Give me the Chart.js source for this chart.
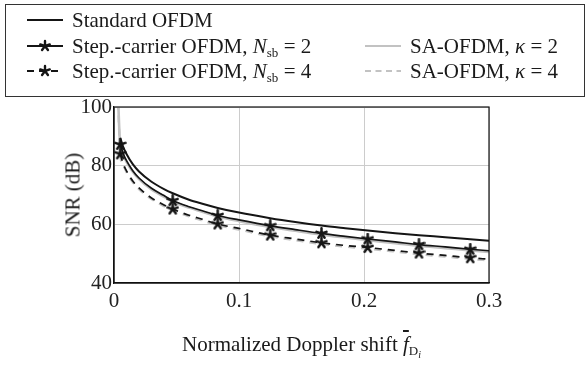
<!DOCTYPE html>
<html>
<head>
<meta charset="utf-8">
<script src="https://cdn.jsdelivr.net/npm/chart.js@4/dist/chart.umd.min.js"></script>
<style>
  body { margin: 0; background: #fff; }
  #wrap { position: relative; width: 586px; height: 376px; overflow: hidden; font-family: "Liberation Serif", "Times New Roman", "DejaVu Serif", serif; color: #1a1a1a; }
  #chart { position: absolute; left: 0; top: 0; }
  #legend { position: absolute; left: 5px; top: 4px; width: 578px; height: 91px; border: 1px solid #333; }
  .item { position: absolute; font-size: 21px; line-height: 24px; white-space: nowrap; }
  .item svg { position: absolute; top: 5px; left: 0; }
  .item span.t { position: absolute; top: 0; }
  .sub { font-size: 13px; position: relative; top: 4px; }
  #xtitle { position: absolute; left: 0; width: 603px; top: 332px; text-align: center; font-size: 21px; line-height: 24px; white-space: nowrap; }
  #ytitle { position: absolute; left: 73px; top: 195px; font-size: 21px; white-space: nowrap; transform: translate(-50%, -50%) rotate(-90deg); }
</style>
</head>
<body>
<div id="wrap">
  <canvas id="chart" width="586" height="376"></canvas>
  <div id="legend"></div>
  <div id="ytitle">SNR (dB)</div>
  <div id="xtitle">Normalized Doppler shift <i style="text-decoration: overline;">f</i><span class="sub">D<span style="font-size:10px; font-style:italic; position:relative; top:3px;">i</span></span></div>
</div>
<script>
// normalized Doppler shift grid (x)
const dopplerShift = [0.003, 0.005, 0.0075, 0.01, 0.015, 0.02, 0.03, 0.04, 0.047, 0.06, 0.07, 0.083, 0.1, 0.125, 0.145, 0.166, 0.185, 0.203, 0.225, 0.244, 0.265, 0.285, 0.3];
// x positions that carry a star mark
const markShift = [0.005, 0.047, 0.083, 0.125, 0.166, 0.203, 0.244, 0.285];

// SNR (dB)
const standardOfdm = [null, 89.5, 86.2, 84.0, 80.5, 78.0, 74.5, 72.0, 70.6, 68.4, 67.1, 65.6, 64.0, 62.1, 60.8, 59.6, 58.7, 57.9, 57.0, 56.3, 55.6, 54.9, 54.4];
const stepNsb2 = [null, 87.2, 84.0, 81.7, 78.3, 75.8, 72.3, 69.8, 68.1, 66.0, 64.7, 63.0, 61.5, 59.5, 58.2, 56.9, 55.9, 55.0, 54.0, 53.1, 52.3, 51.5, 51.0];
const stepNsb4 = [null, 84.0, 80.5, 78.2, 74.8, 72.4, 69.0, 66.6, 65.2, 63.1, 61.8, 60.1, 58.6, 56.3, 55.0, 53.7, 52.8, 52.1, 51.1, 50.2, 49.4, 48.6, 48.1];
const saKappa2 = [106, 86.5, 83.5, 81.3, 77.9, 75.4, 71.9, 69.4, 67.8, 65.7, 64.4, 62.7, 61.1, 59.1, 57.8, 56.5, 55.5, 54.6, 53.6, 52.7, 51.9, 51.1, 50.6];
const saKappa4 = [106, 83.6, 80.1, 77.8, 74.4, 72.0, 68.6, 66.2, 64.8, 62.7, 61.4, 59.7, 58.2, 55.9, 54.6, 53.3, 52.4, 51.7, 50.7, 49.8, 49.0, 48.2, 47.7];

const xTicks = [0, 0.1, 0.2, 0.3];
const yTicks = [40, 60, 80, 100];

const BLACK = "#151515";
const GREY = "#c2c2c2";
const FONT = "'Liberation Serif', 'Times New Roman', 'DejaVu Serif', serif";

// 5-arm star mark, like the pgfplots one
function makeStar(size, lw) {
  const c = document.createElement("canvas");
  c.width = size; c.height = size;
  const g = c.getContext("2d");
  const r = size / 2 - lw / 2;
  g.strokeStyle = BLACK;
  g.lineWidth = lw;
  g.lineCap = "round";
  g.beginPath();
  for (let k = 0; k < 5; k++) {
    const a = -Math.PI / 2 + k * 2 * Math.PI / 5;
    g.moveTo(size / 2, size / 2);
    g.lineTo(size / 2 + r * Math.cos(a), size / 2 + r * Math.sin(a));
  }
  g.stroke();
  return c;
}
const star = makeStar(13, 2.5);

function pts(vals) {
  return dopplerShift.map((x, i) => ({ x: x, y: vals[i] }));
}
const markRadius = (ctx) => markShift.includes(dopplerShift[ctx.dataIndex]) ? 5 : 0;

// legend (html so the math can be set)
const legendItems = [
  { left: 21, top: 3, html: "Standard OFDM", line: "solid", color: BLACK, mark: false },
  { left: 21, top: 29, html: 'Step.-carrier OFDM, <i>N</i><span class="sub">sb</span> = 2', line: "solid", color: BLACK, mark: true },
  { left: 21, top: 54, html: 'Step.-carrier OFDM, <i>N</i><span class="sub">sb</span> = 4', line: "dash", color: BLACK, mark: true },
  { left: 359, top: 29, html: "SA-OFDM, <i>κ</i> = 2", line: "solid", color: GREY, mark: false },
  { left: 359, top: 54, html: "SA-OFDM, <i>κ</i> = 4", line: "dash3", color: GREY, mark: false }
];
const legend = document.getElementById("legend");
legendItems.forEach((it) => {
  const d = document.createElement("div");
  d.className = "item";
  d.style.left = it.left + "px";
  d.style.top = it.top + "px";
  let dash = "";
  if (it.line === "dash") dash = 'stroke-dasharray="7 5"';
  if (it.line === "dash3") dash = 'stroke-dasharray="6 4.5"';
  let svg = '<svg width="36" height="14"><line x1="0" y1="7" x2="36" y2="7" stroke="' + it.color + '" stroke-width="2" ' + dash + '/>';
  if (it.mark) {
    for (let k = 0; k < 5; k++) {
      const a = -Math.PI / 2 + k * 2 * Math.PI / 5;
      svg += '<line x1="18" y1="7" x2="' + (18 + 5 * Math.cos(a)) + '" y2="' + (7 + 5 * Math.sin(a)) + '" stroke="' + BLACK + '" stroke-width="2.4" stroke-linecap="round"/>';
    }
  }
  svg += "</svg>";
  d.innerHTML = svg + '<span class="t" style="left:45px">' + it.html + "</span>";
  legend.appendChild(d);
});

// full box around the plot area
const frame = {
  id: "frame",
  afterDatasetsDraw(chart) {
    const a = chart.chartArea;
    const ctx = chart.ctx;
    ctx.save();
    ctx.strokeStyle = "#111";
    ctx.lineWidth = 1.2;
    ctx.strokeRect(a.left, a.top, a.right - a.left, a.bottom - a.top);
    ctx.restore();
  }
};

new Chart(document.getElementById("chart"), {
  type: "line",
  data: {
    datasets: [
      { label: "Standard OFDM", data: pts(standardOfdm), borderColor: BLACK, borderWidth: 2, pointRadius: 0 },
      { label: "Step.-carrier OFDM, Nsb = 2", data: pts(stepNsb2), borderColor: BLACK, borderWidth: 1.7,
        pointStyle: star, pointRadius: markRadius },
      { label: "Step.-carrier OFDM, Nsb = 4", data: pts(stepNsb4), borderColor: BLACK, borderWidth: 1.7, borderDash: [7, 6],
        pointStyle: star, pointRadius: markRadius },
      { label: "SA-OFDM, kappa = 2", data: pts(saKappa2), borderColor: GREY, borderWidth: 2.6, pointRadius: 0 },
      { label: "SA-OFDM, kappa = 4", data: pts(saKappa4), borderColor: GREY, borderWidth: 2.3, borderDash: [7, 6], pointRadius: 0 }
    ]
  },
  options: {
    responsive: false,
    devicePixelRatio: 1,
    animation: false,
    events: [],
    cubicInterpolationMode: "monotone",
    layout: { padding: { left: 0, right: 97, top: 107, bottom: 0 } },
    plugins: { legend: { display: false }, tooltip: { enabled: false } },
    scales: {
      x: {
        type: "linear", min: 0, max: 0.3,
        afterBuildTicks: (s) => { s.ticks = xTicks.map((v) => ({ value: v })); },
        afterFit: (s) => { s.height = 93; },
        grid: { color: "#cccccc", lineWidth: 1, drawTicks: false },
        border: { color: "#111", width: 1.2 },
        ticks: { padding: 6, color: "#222", font: { family: FONT, size: 21 },
          callback: (v) => String(v) }
      },
      y: {
        type: "linear", min: 40, max: 100,
        afterBuildTicks: (s) => { s.ticks = yTicks.map((v) => ({ value: v })); },
        afterFit: (s) => { s.width = 114; },
        grid: { color: "#cccccc", lineWidth: 1, drawTicks: false },
        border: { color: "#111", width: 1.2 },
        ticks: { padding: 2, color: "#222", font: { family: FONT, size: 21 } }
      }
    }
  },
  plugins: [frame]
});
</script>
</body>
</html>
